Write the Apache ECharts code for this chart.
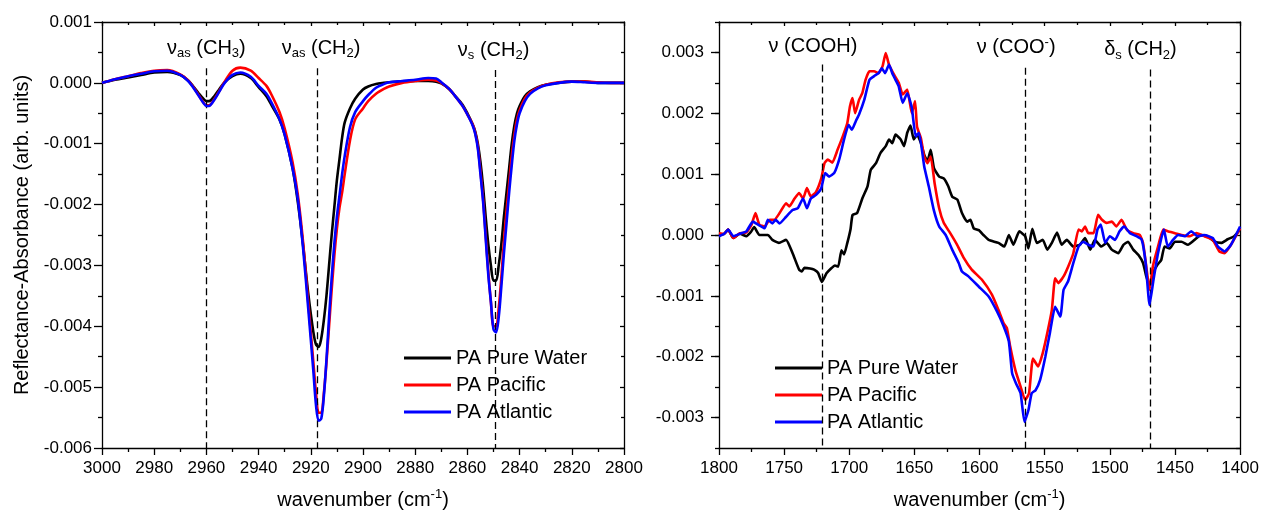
<!DOCTYPE html>
<html>
<head>
<meta charset="utf-8">
<script src="https://cdn.jsdelivr.net/npm/echarts@6/dist/echarts.min.js"></script>
<style>
html,body{margin:0;padding:0;background:#fff;}
#chart{width:1262px;height:516px;}
</style>
</head>
<body>
<div id="chart"></div>
<script>
// values are in units of 1e-3 (arb. units)
const SCALE = 1e-3;

// ---------- left panel (C-H stretching region) ----------
const leftWn = [3000,2995,2990,2985,2980,2975,2970,2967,2965,2963,2961,2960,2959,2957,2955,2953,2950,2947,2943,2940,2937,2935,2932,2930,2927,2925,2923,2921,2919,2918,2917,2916,2915,2914,2913,2912,2911,2910,2909,2908,2907,2905,2903,2900,2898,2895,2892,2890,2885,2880,2875,2872,2870,2867,2865,2862,2860,2858,2857,2856,2855,2854,2853,2852,2851,2850,2849,2848,2847,2846,2845,2844,2843,2842,2841,2840,2838,2836,2833,2830,2825,2820,2815,2810,2805,2800];
const leftPureWater = [0,0.05,0.09,0.13,0.17,0.18,0.13,0.04,-0.06,-0.17,-0.27,-0.3,-0.3,-0.22,-0.1,0.01,0.11,0.15,0.08,-0.07,-0.22,-0.37,-0.6,-0.85,-1.4,-1.95,-2.65,-3.45,-4.1,-4.3,-4.34,-4.2,-3.9,-3.5,-3.0,-2.5,-2.05,-1.6,-1.25,-0.9,-0.65,-0.42,-0.26,-0.11,-0.06,-0.02,0.0,0.01,0.02,0.03,0.03,0.02,-0.01,-0.1,-0.2,-0.35,-0.5,-0.68,-0.8,-1.0,-1.3,-1.7,-2.2,-2.65,-3.0,-3.25,-3.25,-3.0,-2.65,-2.2,-1.8,-1.4,-1.0,-0.7,-0.5,-0.38,-0.22,-0.14,-0.07,-0.03,0.0,0.02,0.02,0.0,0.0,0.0];
const leftPacific = [0,0.06,0.11,0.16,0.2,0.21,0.14,0.04,-0.07,-0.2,-0.33,-0.37,-0.37,-0.27,-0.13,0.02,0.2,0.25,0.2,0.08,-0.05,-0.2,-0.48,-0.75,-1.3,-1.83,-2.6,-3.6,-4.6,-5.1,-5.42,-5.42,-5.1,-4.6,-4.0,-3.4,-2.85,-2.4,-2.05,-1.8,-1.5,-0.95,-0.6,-0.42,-0.3,-0.18,-0.1,-0.06,0.0,0.03,0.05,0.04,0.0,-0.1,-0.2,-0.37,-0.52,-0.68,-0.82,-1.05,-1.45,-1.9,-2.5,-3.1,-3.6,-4.0,-4.0,-3.7,-3.2,-2.6,-2.1,-1.65,-1.2,-0.85,-0.6,-0.45,-0.26,-0.16,-0.08,-0.03,0.01,0.02,0.02,0.01,0.0,0.0];
const leftAtlantic = [0,0.06,0.11,0.15,0.19,0.2,0.13,0.03,-0.08,-0.21,-0.34,-0.38,-0.38,-0.28,-0.14,0.0,0.13,0.17,0.1,-0.05,-0.18,-0.33,-0.6,-0.85,-1.4,-1.9,-2.7,-3.7,-4.75,-5.3,-5.55,-5.52,-5.15,-4.55,-3.85,-3.2,-2.65,-2.2,-1.85,-1.5,-1.2,-0.73,-0.48,-0.3,-0.2,-0.08,-0.02,0.01,0.03,0.05,0.08,0.07,0.01,-0.1,-0.2,-0.37,-0.52,-0.7,-0.84,-1.08,-1.5,-1.95,-2.55,-3.15,-3.6,-4.05,-4.1,-3.85,-3.35,-2.8,-2.3,-1.8,-1.35,-0.95,-0.68,-0.5,-0.3,-0.18,-0.09,-0.04,0.0,0.02,0.01,0.0,0.0,0.0];

// ---------- right panel (carbonyl / carboxylate region) ----------
const rightPureWaterWn = [1800,1796,1793,1789,1784,1779,1775.5,1773,1769,1762.5,1759,1754,1748.5,1743.5,1738.5,1736.5,1734.5,1730,1727,1724,1721,1717.5,1714,1711,1708.5,1706,1704,1701.5,1699,1697.5,1694,1690,1686,1683.5,1679.5,1676,1672,1669.5,1667,1664.5,1660.5,1658,1655.5,1653,1650.5,1648,1645,1642.5,1640,1637.5,1635,1631,1627.5,1624,1621,1617,1613.5,1609.5,1607,1604.5,1600.5,1597,1593,1585.5,1581,1577.5,1574,1569.5,1565,1562.5,1559.5,1556,1551.5,1548,1544.5,1540.5,1537,1533,1528,1523,1519,1515,1511.5,1506.5,1502.5,1498.5,1493.5,1489.5,1486,1482,1478,1474.5,1472,1469.5,1467,1463.5,1460.5,1458,1454,1450,1445,1440,1435,1430,1425,1419.5,1414.5,1409.5,1404.5,1400];
const rightPureWater = [0.0,0.02,0.09,-0.05,0.02,-0.02,0.05,0.13,0.0,0.0,-0.08,-0.13,-0.08,-0.3,-0.57,-0.6,-0.54,-0.55,-0.57,-0.62,-0.77,-0.63,-0.55,-0.5,-0.52,-0.25,-0.32,-0.13,0.1,0.33,0.36,0.6,0.8,1.07,1.18,1.35,1.46,1.57,1.51,1.65,1.57,1.46,1.68,1.8,1.57,1.65,1.51,1.32,1.21,1.4,1.1,0.96,0.93,0.8,0.63,0.58,0.36,0.22,0.25,0.11,0.08,0.0,-0.08,-0.13,-0.19,0.0,-0.16,0.06,-0.02,-0.22,0.1,-0.13,-0.08,-0.24,-0.13,0.04,-0.16,-0.08,-0.19,-0.16,-0.05,-0.24,-0.08,-0.19,-0.13,-0.24,-0.3,-0.16,-0.11,-0.24,-0.33,-0.46,-0.68,-0.85,-0.63,-0.49,-0.41,-0.19,-0.22,-0.11,-0.11,-0.16,-0.08,0.0,-0.02,-0.11,-0.13,-0.07,-0.02,0.09];
const rightPacificWn = [1800,1796,1793,1789,1784,1779,1775,1772,1769,1765,1761,1757.5,1753.5,1748.5,1746,1742,1738.5,1735.5,1732.5,1729.5,1725.5,1721.5,1719,1716.5,1713,1709,1705,1701.5,1699.5,1697.5,1695.5,1692.5,1690,1687.5,1684.5,1681,1677.5,1674.5,1672,1669.5,1665.5,1662,1659,1655.5,1652,1649.5,1648,1645,1642.5,1640,1637.5,1634.5,1631,1627.5,1622.5,1617,1612,1606,1598,1590.5,1585.5,1581.5,1579,1576.5,1572.5,1568.5,1565,1562,1559,1555,1551.5,1548,1544.5,1542,1539.5,1535.5,1532,1528,1524,1521.5,1519,1516.5,1512.5,1509,1506,1502.5,1498.5,1495,1491,1487,1482,1477,1474.5,1472,1469.5,1467,1463,1459,1455.5,1450,1445,1438.5,1433.5,1427.5,1421,1416,1412,1407,1400];
const rightPacific = [0.03,0.02,0.09,-0.05,0.03,0.04,0.17,0.36,0.17,0.14,0.25,0.25,0.36,0.52,0.47,0.6,0.69,0.6,0.77,0.63,0.71,0.93,1.18,1.24,1.19,1.4,1.62,1.84,2.11,2.25,2.0,2.22,2.33,2.55,2.69,2.69,2.66,2.77,2.99,2.8,2.63,2.5,2.31,2.39,2.0,2.2,1.78,1.59,1.29,1.18,1.29,0.85,0.44,0.2,0.03,-0.17,-0.38,-0.57,-0.74,-0.98,-1.23,-1.45,-1.53,-1.83,-2.22,-2.49,-2.71,-2.6,-2.03,-2.16,-1.94,-1.61,-1.23,-0.71,-0.79,-0.68,-0.52,-0.3,0.09,0.06,0.14,0.03,0.03,0.33,0.25,0.2,0.22,0.14,0.25,0.09,0.03,0.0,-0.13,-0.52,-0.9,-0.52,-0.19,0.09,0.06,0.03,0.0,-0.02,0.03,-0.02,-0.08,-0.27,-0.3,-0.16,0.11];
const rightAtlanticWn = [1800,1796,1793,1789,1784,1779,1774,1770,1765,1762.5,1759,1756.5,1753.5,1748.5,1743.5,1739.5,1735.5,1732.5,1729.5,1725.5,1721.5,1718.5,1715.5,1711.5,1707.5,1704,1700.5,1698,1695,1692.5,1688.5,1684.5,1681,1677.5,1675,1672.5,1669.5,1667,1664.5,1662,1659,1655.5,1652,1649,1646.5,1642.5,1639,1635,1631,1626,1621,1616,1613.5,1608.5,1600.5,1593,1586.5,1581.5,1577.5,1575,1572,1568.5,1565.5,1562.5,1560,1557,1553.5,1549.5,1546,1542,1538,1535.5,1532,1528,1524,1520.5,1516.5,1512.5,1509.5,1507,1503.5,1500,1496,1492.5,1489,1484.5,1479.5,1475.5,1472.5,1469.5,1466.5,1463,1458.5,1455.5,1451.5,1447.5,1442.5,1437.5,1432.5,1427.5,1421,1417,1412,1407,1400];
const rightAtlantic = [-0.02,0.02,0.09,-0.02,0.02,0.06,0.22,0.17,0.11,0.25,0.19,0.25,0.19,0.3,0.41,0.44,0.6,0.44,0.6,0.66,0.77,1.02,0.96,1.02,1.26,1.57,1.81,1.73,1.87,1.98,2.22,2.55,2.61,2.66,2.74,2.66,2.8,2.66,2.55,2.44,2.17,2.33,2.09,1.62,1.68,1.13,0.8,0.4,0.14,0.0,-0.24,-0.46,-0.6,-0.68,-0.85,-1.01,-1.26,-1.5,-1.75,-2.27,-2.44,-2.6,-3.07,-2.88,-2.6,-2.55,-2.38,-2.0,-1.61,-1.18,-1.34,-0.9,-0.76,-0.46,-0.19,-0.11,-0.16,-0.19,0.09,0.17,-0.13,-0.02,-0.08,0.06,0.14,0.03,-0.02,-0.08,-0.46,-1.15,-0.74,-0.3,0.09,-0.19,-0.08,0.0,-0.02,0.06,-0.02,0.0,-0.05,-0.19,-0.27,-0.16,0.14];

// tick labels (right y axis majors)
const rightYTicks = [-0.003,-0.002,-0.001,0,0.001,0.002,0.003];
const seriesNames = ['PA Pure Water','PA Pacific','PA Atlantic'];
const seriesColors = ['#000000','#ff0000','#0000ff'];

// band assignments: [wavenumber, top of dashed line]
const leftBands = [
  {wn:2960, top:0.24, label:'{n|ν}{sub|as}{n| (CH}{sub|3}{n|)}', pad:[0,0,0,0]},
  {wn:2917.6, top:0.24, label:'{n|ν}{sub|as}{n| (CH}{sub|2}{n|)}', pad:[0,0,0,8]},
  {wn:2849.2, top:0.21, label:'{n|ν}{sub|s}{n| (CH}{sub|2}{n|)}', pad:[0,4,0,0]}
];
const rightBands = [
  {wn:1721, top:2.8, label:'{n|ν (COOH)}', pad:[0,18,0,0]},
  {wn:1564.6, top:2.75, label:'{n|ν (COO}{sup|-}{n|)}', pad:[0,19,0,0]},
  {wn:1469.2, top:2.72, label:'{n|δ}{sub|s}{n| (CH}{sub|2}{n|)}', pad:[0,19,0,0]}
];

const FONT = 'Liberation Sans, Arial, Helvetica, sans-serif';
const RICH = {
  n: {fontSize: 20, fontFamily: FONT, color: '#000'},
  sub: {fontSize: 13, fontFamily: FONT, color: '#000', padding: [11,0,0,0]},
  sup: {fontSize: 13, fontFamily: FONT, color: '#000', padding: [0,0,11,0]}
};

function zip(wn, vals) {
  const n = Math.min(wn.length, vals.length);
  const out = [];
  for (let i = 0; i < n; i++) out.push([wn[i], vals[i] * SCALE]);
  return out;
}
function fmt3(v) {
  let s = Number(v).toFixed(3);
  if (s === '-0.000') s = '0.000';
  return s;
}
function fmtInt(v) {
  return String(Math.round(v));
}
function isMajor(v) {
  return Math.abs(Math.round(v * 1000) - v * 1000) < 1e-6;
}
function marks(bands, bottom) {
  return {
    silent: true,
    symbol: ['none', 'none'],
    animation: false,
    lineStyle: {color: '#000', type: [7, 4], width: 1.3},
    data: bands.map(b => [
      {coord: [b.wn, b.top * SCALE],
       label: {show: true, position: 'start', distance: 8, formatter: b.label, rich: RICH, padding: b.pad, color:'#000'}},
      {coord: [b.wn, bottom]}
    ])
  };
}

const AX = {color: '#000', width: 1.3};
function xBottom(grid, min, max, interval) {
  return {
    type: 'value', gridIndex: grid, position: 'bottom', min, max, interval, inverse: true,
    axisLine: {show: true, onZero: false, lineStyle: AX},
    axisTick: {show: true, length: 7, lineStyle: AX},
    minorTick: {show: true, splitNumber: 2, length: 4, lineStyle: AX},
    axisLabel: {fontSize: 17, fontFamily: FONT, color: '#000', margin: 12, formatter: fmtInt},
    splitLine: {show: false}, minorSplitLine: {show: false},
    name: '{n|wavenumber (cm}{sup|-1}{n|)}', nameLocation: 'middle', nameGap: 40,
    nameTextStyle: {rich: RICH}
  };
}
function xTop(grid, min, max, interval) {
  return {
    type: 'value', gridIndex: grid, position: 'top', min, max, interval, inverse: true,
    axisLine: {show: true, onZero: false, lineStyle: AX},
    axisTick: {show: true, inside: true, length: 4, lineStyle: AX},
    minorTick: {show: true, splitNumber: 2, length: 3, lineStyle: AX},
    axisLabel: {show: false}, splitLine: {show: false}
  };
}

const option = {
  animation: false,
  backgroundColor: '#fff',
  grid: [
    {left: 102, top: 22, width: 522, height: 426},
    {left: 719, top: 22, width: 523, height: 426}
  ],
  legend: [
    {data: seriesNames, orient: 'vertical', left: 404, top: 348, icon: 'rect', itemWidth: 47, itemHeight: 3,
     itemGap: 7, padding: 0, textStyle: {fontSize: 20, fontFamily: FONT, color: '#000', lineHeight: 20}, selectedMode: false},
    {data: seriesNames, orient: 'vertical', left: 775, top: 358, icon: 'rect', itemWidth: 47, itemHeight: 3,
     itemGap: 7, padding: 0, textStyle: {fontSize: 20, fontFamily: FONT, color: '#000', lineHeight: 20}, selectedMode: false}
  ],
  xAxis: [
    xBottom(0, 2800, 3000, 20), xTop(0, 2800, 3000, 20),
    xBottom(1, 1400, 1800, 50), xTop(1, 1400, 1800, 50)
  ],
  yAxis: [
    {type: 'value', gridIndex: 0, position: 'left', min: -0.006, max: 0.001, interval: 0.001,
     axisLine: {show: true, onZero: false, lineStyle: AX},
     axisTick: {show: true, length: 8, lineStyle: AX},
     minorTick: {show: true, splitNumber: 2, length: 4, lineStyle: AX},
     axisLabel: {fontSize: 17, fontFamily: FONT, color: '#000', margin: 10, formatter: fmt3},
     splitLine: {show: false}, minorSplitLine: {show: false},
     name: 'Reflectance-Absorbance (arb. units)', nameLocation: 'middle', nameRotate: 90, nameGap: 70,
     nameTextStyle: {fontSize: 20, fontFamily: FONT, color: '#000'}},
    {type: 'value', gridIndex: 0, position: 'right', min: -0.006, max: 0.001, interval: 0.001,
     axisLine: {show: true, onZero: false, lineStyle: AX},
     axisTick: {show: true, inside: true, length: 4, lineStyle: AX},
     minorTick: {show: true, splitNumber: 2, length: 3, lineStyle: AX},
     axisLabel: {show: false}, splitLine: {show: false}},
    {type: 'value', gridIndex: 1, position: 'left', min: -0.0035, max: 0.0035, interval: 0.0005,
     axisLine: {show: true, onZero: false, lineStyle: AX},
     axisTick: {show: true, length: 8, customValues: rightYTicks, lineStyle: AX},
     axisLabel: {fontSize: 17, fontFamily: FONT, color: '#000', margin: 15, customValues: rightYTicks,
                 formatter: v => isMajor(v) ? fmt3(v) : ''},
     splitLine: {show: false}},
    {type: 'value', gridIndex: 1, position: 'left', min: -0.0035, max: 0.0035, interval: 0.0005,
     axisLine: {show: false},
     axisTick: {show: true, length: 4, lineStyle: AX},
     axisLabel: {show: false}, splitLine: {show: false}},
    {type: 'value', gridIndex: 1, position: 'right', min: -0.0035, max: 0.0035, interval: 0.0005,
     axisLine: {show: true, onZero: false, lineStyle: AX},
     axisTick: {show: true, inside: true, length: 4, lineStyle: AX},
     axisLabel: {show: false}, splitLine: {show: false}}
  ],
  series: []
};

const leftData = [leftPureWater, leftPacific, leftAtlantic];
const rightWn = [rightPureWaterWn, rightPacificWn, rightAtlanticWn];
const rightData = [rightPureWater, rightPacific, rightAtlantic];

for (let i = 0; i < 3; i++) {
  const s = {
    name: seriesNames[i], type: 'line', xAxisIndex: 0, yAxisIndex: 0,
    data: zip(leftWn, leftData[i]), symbol: 'none', smooth: 0.3,
    lineStyle: {color: seriesColors[i], width: 2.6}, itemStyle: {color: seriesColors[i]}, z: 3 + i
  };
  if (i === 0) s.markLine = marks(leftBands, -0.006);
  option.series.push(s);
}
for (let i = 0; i < 3; i++) {
  const s = {
    name: seriesNames[i], type: 'line', xAxisIndex: 2, yAxisIndex: 2,
    data: zip(rightWn[i], rightData[i]), symbol: 'none', smooth: 0.15,
    lineStyle: {color: seriesColors[i], width: 2.6}, itemStyle: {color: seriesColors[i]}, z: 3 + i
  };
  if (i === 0) s.markLine = marks(rightBands, -0.0035);
  option.series.push(s);
}

const chart = echarts.init(document.getElementById('chart'), null, {renderer: 'canvas'});
chart.setOption(option);
</script>
</body>
</html>
